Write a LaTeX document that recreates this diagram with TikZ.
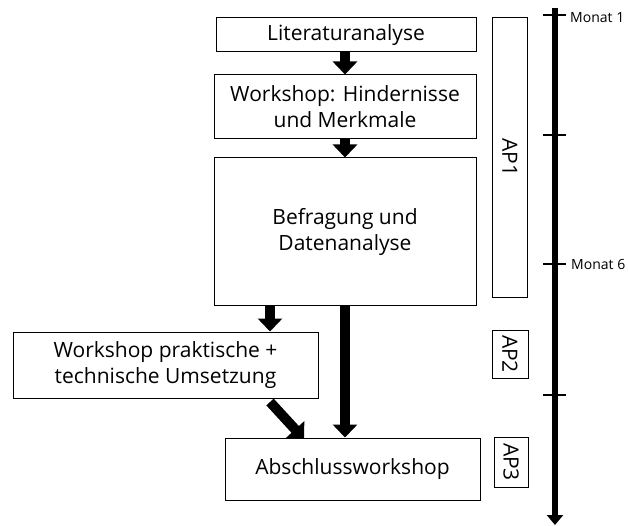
\documentclass[tikz,border=0pt]{standalone}
\usepackage{fontspec}
\setmainfont{Open Sans}
\usetikzlibrary{arrows.meta,calc}
\begin{document}
\begin{tikzpicture}[x=1pt,y=-1pt,
  box/.style={draw,line width=1pt,inner sep=2pt,align=center,font=\fontsize{21}{26}\selectfont},
  apbox/.style={draw,line width=1pt,inner sep=0pt,font=\fontsize{21}{26}\selectfont},
  flow/.style={line width=10pt,-{Triangle[width=24pt,length=13pt]}},
  tick/.style={line width=2pt},
  monat/.style={font=\fontsize{14}{16}\selectfont,anchor=west,inner sep=0pt}]
\useasboundingbox (0,0) rectangle (628,526);
\node[box,minimum width=260pt,minimum height=34pt] (lit) at (346,35) {Literaturanalyse};
\node[box,minimum width=262pt,minimum height=64pt] (wh) at (345,107) {Workshop: Hindernisse\\und Merkmale};
\node[box,minimum width=262pt,minimum height=147pt] (bef) at (345,231.5) {Befragung und\\Datenanalyse};
\node[box,minimum width=305pt,minimum height=66pt] (wp) at (165.5,365) {Workshop praktische +\\technische Umsetzung};
\node[box,minimum width=255pt,minimum height=62pt] (ab) at (352.5,469) {Abschlussworkshop};
\node[apbox,minimum width=35pt,minimum height=279pt] (ap1) at (510,157.5) {\rotatebox{-90}{AP1}};
\node[apbox,minimum width=36pt,minimum height=48pt] (ap2) at (510,354) {\rotatebox{-90}{AP2}};
\node[apbox,minimum width=34pt,minimum height=50pt] (ap3) at (511,462) {\rotatebox{-90}{AP3}};
% flow arrows
\draw[flow] (lit.south -| 345,0) -- (wh.north -| 345,0);
\draw[flow] (wh.south) -- (bef.north);
\coordinate (b1) at (bef.south -| 270,0);
\coordinate (w1) at (wp.north -| 270,0);
\draw[flow] (b1) -- (w1);
\draw[flow] (bef.south) -- (ab.north -| bef.south);
\coordinate (w2) at (270,402);
\coordinate (a2) at (304,439);
\draw[flow] (w2) -- (a2);
% timeline
\coordinate (t0) at (555,8);
\coordinate (t1) at (555,525);
\draw[line width=6pt,-{Triangle[width=16pt,length=10pt]}] (t0) -- (t1);
\foreach \y in {15,135,264,395}{
  \draw[tick] (543,\y) -- (566,\y);
}
\node[monat] (m1) at (570,18) {Monat 1};
\node[monat] (m6) at (571,264) {Monat 6};
\end{tikzpicture}
\end{document}
